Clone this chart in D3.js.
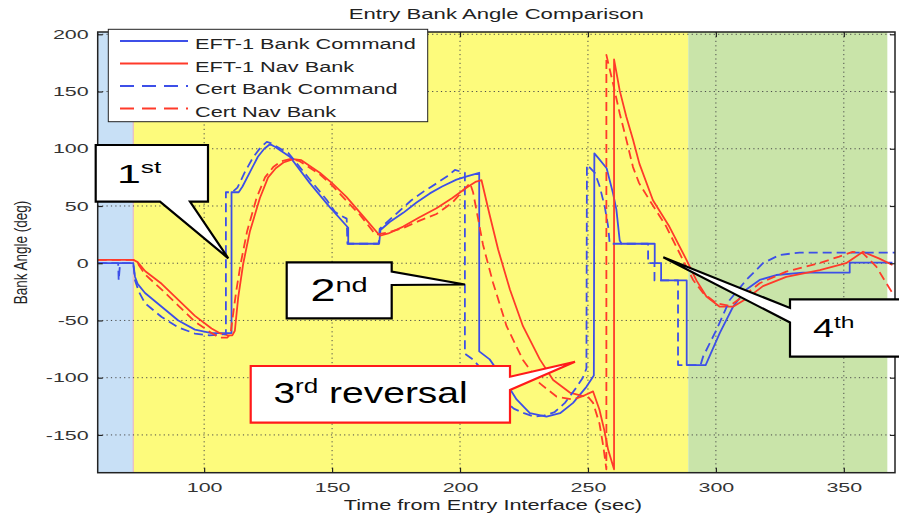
<!DOCTYPE html>
<html>
<head>
<meta charset="utf-8">
<script src="https://cdn.jsdelivr.net/npm/d3@7"></script>
<style>
  body { margin: 0; background: #fff; }
  svg text { font-family: "Liberation Sans", Arial, Helvetica, sans-serif; }
</style>
</head>
<body>
<svg id="chart" width="899" height="516"></svg>
<script>
// ---- data (time in s, bank angle in deg) ----
const seriesNames = ['EFT-1 Bank Command', 'EFT-1 Nav Bank', 'Cert Bank Command', 'Cert Nav Bank'];

const eftBankCmd = [
  [58.4,0],[72.3,0],[73,-12],[74,-18],[76.9,-26],[83.4,-38],[89.9,-50],[96.4,-58],[102.9,-61],[110.7,-61],
  [110.7,62],[113.5,62],[115,67],[118,80],[121,93],[123.5,100],[125.7,104],[127.5,102],[133.5,93],[141.3,70],[149.1,49],[156.3,31],
  [156.3,17],[168.4,17],[168.9,29],[172.5,36],[177.8,44],[183,53],[188.2,61],[193,67],[198.6,73],[203,76],[207.5,79],
  [207.5,-77],[211.6,-84],[215,-95],[218.2,-105],[222.1,-119],[227.3,-131],[233.8,-134],[239.1,-131],[244.2,-122],[249.4,-108],[252.3,-98],
  [252.5,96],[254,92],[257.3,83],[259.8,61],[261.1,47],[262.4,20],[263.1,17],[276.1,17],[276.1,0],[278.6,0],[278.6,-15],[288.6,-15],[288.6,-89],[296,-89],
  [301.5,-61],[306.7,-38],[311.9,-23],[317.1,-14.6],[323.6,-10.3],[334,-8.2],[352.3,-8.2],[352.3,0.5],[369,0.5]
];

const eftNavBank = [
  [58.4,3],[72.3,3],[74,1],[77,-7],[83.4,-18],[89.9,-32],[96.4,-46],[102.9,-57],[106,-61],[109.4,-63],[111,-63],[112,-59],
  [113.3,-30],[115.3,0],[117.9,28],[121.8,57],[125,75],[128,83],[131,88],[134.8,91],[138,90],[145.2,79],[150,70],[155.6,58],
  [162.2,41],[168.7,24],[172,26],[177.8,32],[184,40],[190.8,48],[197,57],[202.5,66],[206,71],[208.4,72.5],[211.5,43],[214.9,12],
  [219.5,-23],[224.6,-55],[231.2,-84],[236.4,-102],[242.9,-113],[248.1,-116],[252,-112],[254.5,-128],[256.4,-146],[257.9,-163],
  [260.2,-180],[260.2,178],[262.4,151],[265,128],[267.6,108],[270.1,87],[275.4,55],[281.8,32],[288.5,3],[292.4,-15],[296.3,-29],
  [301.5,-38],[306.7,-38],[311.9,-31],[318.4,-20],[327.5,-12],[340.6,-6],[350.9,0],[357.5,10],[363.9,4],[369,-1.5]
];

const certBankCmd = [
  [58.4,0],[66.4,0],[66.6,-15],[67,-4],[67.3,0],[72.3,0],[73,-15],[74.5,-25],[76.9,-35],[83.4,-47],[89.9,-56],[96.4,-61.5],[102,-63],[108.5,-62],
  [108.5,62],[111,62],[113,66],[116,80],[119,92],[122,101],[124.5,106],[126,105],[133,96],[141,74],[148,55],[151.1,45],[153,42],[155.7,39],
  [156,17],[168.2,17],[168.6,30],[172,37],[176,45],[181,55],[186,63],[191,70],[195,76],[198,81.5],[201.9,79],
  [201.9,-79],[205,-84],[209,-94],[213,-108],[217,-119],[221,-127],[225,-131],[229,-134],[233,-133],[237,-130],[241,-122],[245,-110],[248,-100],[249.4,-92],
  [249.6,86],[252.7,79],[254.6,67],[256.6,49],[257.9,32],[258.5,17],[273.5,17],[273.5,0],[276,0],[276,-15],[285.2,-15],[285.2,-89],[294,-89],
  [295,-81.6],[300.2,-58.3],[305.4,-32.1],[311.9,-14.6],[318.4,0],[324.9,7.2],[332.7,9.3],[370,9.3]
];

const certNavBank = [
  [58.4,3],[72.3,3],[74,0],[77,-10],[83.4,-23],[89.9,-37],[96.4,-51],[102.9,-61],[106,-65],[109,-65],[110.3,-62],[111.3,-45],
  [112.5,-25],[114.3,0],[116.8,28],[120.5,57],[123.8,75],[127,84],[130,89],[133.5,91],[137,89.5],[145,78],[150,68],[155,56],
  [161,42],[167,25],[172,27],[178,31],[184,37],[190.8,43],[197,53],[201,63],[203.9,70],[205.1,62],[209,16],[212.9,-17],
  [218.2,-55],[224.6,-84.5],[231.2,-105],[237.7,-116.5],[244.2,-119],[249.4,-115],[252,-122],[254.5,-140],[256,-160],
  [257.2,-180],[257.2,182],[259.8,157],[262.4,131],[265,108],[267.6,84],[270,70],[274.1,55],[280.6,32],[287.1,3],[291.1,-14.6],
  [295,-26],[300.2,-35],[305.4,-37.3],[310.6,-29],[317.1,-17.5],[327.5,-7.3],[340.3,0],[348.2,5.8],[353.5,10],[357.5,8.7],
  [362.7,-3],[366.6,-17.5],[369,-26]
];

// flight phase bands (s)
const phaseStart = [58.4, 72.3, 289.2];
const phaseEnd   = [72.3, 289.2, 367];

const xTicks = [100, 150, 200, 250, 300, 350];
const yTicks = [-150, -100, -50, 0, 50, 100, 150, 200];

// ---- styles ----
const blue = '#3d4fe8';
const red = '#ff3a2a';
const phaseColors = ['#c8e0f6', '#fdfb7c', '#c9e4a9'];
const seriesStyle = [
  {color: blue, dash: null},
  {color: red, dash: null},
  {color: blue, dash: '9,5'},
  {color: red, dash: '9,5'}
];
const seriesData = [eftBankCmd, eftNavBank, certBankCmd, certNavBank];

const svg = d3.select('#chart');

// Scales
const x = d3.scaleLinear().domain([58.4, 370]).range([97.7, 895]);
const y = d3.scaleLinear().domain([-183, 202]).range([472.7, 32]);
const [x0, x1] = x.range();
const [y0, y1] = y.range();   // y0 bottom, y1 top

// stretch text horizontally like the reference
function stretch(sel, k) {
  sel.each(function () {
    const w = this.getComputedTextLength();
    d3.select(this).attr('textLength', w * k).attr('lengthAdjust', 'spacingAndGlyphs');
  });
}

svg.append('clipPath').attr('id', 'plotClip')
  .append('rect').attr('x', x0).attr('y', y1).attr('width', x1 - x0).attr('height', y0 - y1);

// Phase bands
svg.append('g').selectAll('rect')
  .data(phaseStart)
  .join('rect')
  .attr('x', d => x(d))
  .attr('y', y1)
  .attr('width', (d, i) => x(phaseEnd[i]) - x(d))
  .attr('height', y0 - y1)
  .attr('fill', (d, i) => phaseColors[i]);

// thin pink seam between blue and yellow bands
svg.append('line')
  .attr('x1', x(phaseStart[1])).attr('x2', x(phaseStart[1]))
  .attr('y1', y1).attr('y2', y0)
  .attr('stroke', '#e6b8c4').attr('stroke-width', 1.2);

// Grid
const grid = svg.append('g').attr('stroke', '#4a4a4a').attr('stroke-dasharray', '1.2,3.2').attr('stroke-width', 1);
grid.selectAll('.gx').data(xTicks).join('line')
  .attr('x1', d => x(d)).attr('x2', d => x(d)).attr('y1', y1).attr('y2', y0);
grid.selectAll('.gy').data(yTicks).join('line')
  .attr('y1', d => y(d)).attr('y2', d => y(d)).attr('x1', x0).attr('x2', x1);

// Lines
const line = d3.line().x(d => x(d[0])).y(d => y(d[1]));
svg.append('g').attr('clip-path', 'url(#plotClip)')
  .selectAll('path')
  .data(seriesData)
  .join('path')
  .attr('d', line)
  .attr('fill', 'none')
  .attr('stroke', (d, i) => seriesStyle[i].color)
  .attr('stroke-width', 1.8)
  .attr('stroke-dasharray', (d, i) => seriesStyle[i].dash)
  .attr('stroke-linejoin', 'round');

// Axes (MATLAB style, ticks inside)
const axisColor = '#222';
const fmt = d => String(d);
const gB = svg.append('g').attr('transform', `translate(0,${y0})`)
  .call(d3.axisBottom(x).tickValues(xTicks).tickSize(-5).tickPadding(10).tickFormat(fmt));
const gT = svg.append('g').attr('transform', `translate(0,${y1})`)
  .call(d3.axisTop(x).tickValues(xTicks).tickSize(-5).tickFormat(''));
const gL = svg.append('g').attr('transform', `translate(${x0},0)`)
  .call(d3.axisLeft(y).tickValues(yTicks).tickSize(-5).tickPadding(9).tickFormat(fmt));
const gR = svg.append('g').attr('transform', `translate(${x1},0)`)
  .call(d3.axisRight(y).tickValues(yTicks).tickSize(-5).tickFormat(''));
[gB, gT, gL, gR].forEach(g => {
  g.select('.domain').remove();
  g.selectAll('line').attr('stroke', axisColor).attr('stroke-width', 1.2);
  g.selectAll('text').attr('fill', '#333').style('font-size', '13px');
});
stretch(gB.selectAll('text'), 1.65);
stretch(gL.selectAll('text'), 1.65);

svg.append('rect')
  .attr('x', x0).attr('y', y1).attr('width', x1 - x0).attr('height', y0 - y1)
  .attr('fill', 'none').attr('stroke', axisColor).attr('stroke-width', 1.5);

// Title and axis labels
svg.append('text')
  .attr('x', (x0 + x1) / 2).attr('y', 18.5)
  .attr('text-anchor', 'middle').attr('fill', '#222').style('font-size', '14px')
  .text('Entry Bank Angle Comparison')
  .call(stretch, 1.58);

svg.append('text')
  .attr('x', 493).attr('y', 510)
  .attr('text-anchor', 'middle').attr('fill', '#222').style('font-size', '14px')
  .text('Time from Entry Interface (sec)')
  .call(stretch, 1.55);

svg.append('text')
  .attr('transform', 'translate(27,252.5) scale(1.4,1) rotate(-90)')
  .attr('text-anchor', 'middle').attr('fill', '#222').style('font-size', '13.5px')
  .text('Bank Angle (deg)');

// Legend
const legend = svg.append('g');
legend.append('rect')
  .attr('x', 108.3).attr('y', 29.3).attr('width', 319.4).attr('height', 92.4)
  .attr('fill', '#fff').attr('stroke', '#222').attr('stroke-width', 1);
const rows = legend.selectAll('g.row')
  .data(seriesNames)
  .join('g')
  .attr('class', 'row')
  .attr('transform', (d, i) => `translate(0,${41 + i * 22.5})`);
rows.append('line')
  .attr('x1', 120).attr('x2', 188).attr('y1', 0).attr('y2', 0)
  .attr('stroke', (d, i) => seriesStyle[i].color)
  .attr('stroke-width', 1.8)
  .attr('stroke-dasharray', (d, i) => seriesStyle[i].dash ? '14,8' : null);
rows.append('text')
  .attr('x', 195).attr('y', 8)
  .attr('fill', '#222').style('font-size', '14px')
  .text(d => d)
  .call(stretch, 1.55);

// Reversal callouts (annotation layer, page pixels)
const callouts = [
  {main: '1', sup: 'st', rest: '', stroke: '#000',
   path: 'M95.7,145 H208 V201.7 H190 L228.3,258.3 L160,201.7 H95.7 Z',
   tx: 117, ty: 183.3, k: 1.65, fs: 26, sfs: 16, sdy: -10},
  {main: '2', sup: 'nd', rest: '', stroke: '#000',
   path: 'M286.7,262.3 H391.7 V271.7 L465,284.5 L391.7,285 V318.3 H286.7 Z',
   tx: 310.4, ty: 300.7, k: 1.45, fs: 31, sfs: 20, sdy: -9},
  {main: '3', sup: 'rd', rest: ' reversal', stroke: '#ff1a1a',
   path: 'M250.7,366 H510 V376.7 L575,361.7 L510,390 V422.7 H250.7 Z',
   tx: 273.4, ty: 403.3, k: 1.3, fs: 30, sfs: 20, sdy: -10},
  {main: '4', sup: 'th', rest: '', stroke: '#000',
   path: 'M790,299.3 H905 V356.7 H790 V322.5 L663.3,257.3 L790,308 Z',
   tx: 813, ty: 336.7, k: 1.45, fs: 26, sfs: 17, sdy: -8.7}
];
const co = svg.append('g').selectAll('g').data(callouts).join('g');
co.append('path')
  .attr('d', d => d.path)
  .attr('fill', '#fff')
  .attr('stroke', d => d.stroke)
  .attr('stroke-width', 2.2)
  .attr('stroke-linejoin', 'miter');
const ct = co.append('text')
  .attr('transform', d => `translate(${d.tx},${d.ty}) scale(${d.k},1)`)
  .attr('fill', '#000');
ct.append('tspan').style('font-size', d => d.fs + 'px').text(d => d.main);
ct.append('tspan').style('font-size', d => d.sfs + 'px').attr('dy', d => d.sdy).text(d => d.sup);
ct.filter(d => d.rest).append('tspan').style('font-size', d => d.fs + 'px').attr('dy', d => -d.sdy).text(d => d.rest);
</script>
</body>
</html>
